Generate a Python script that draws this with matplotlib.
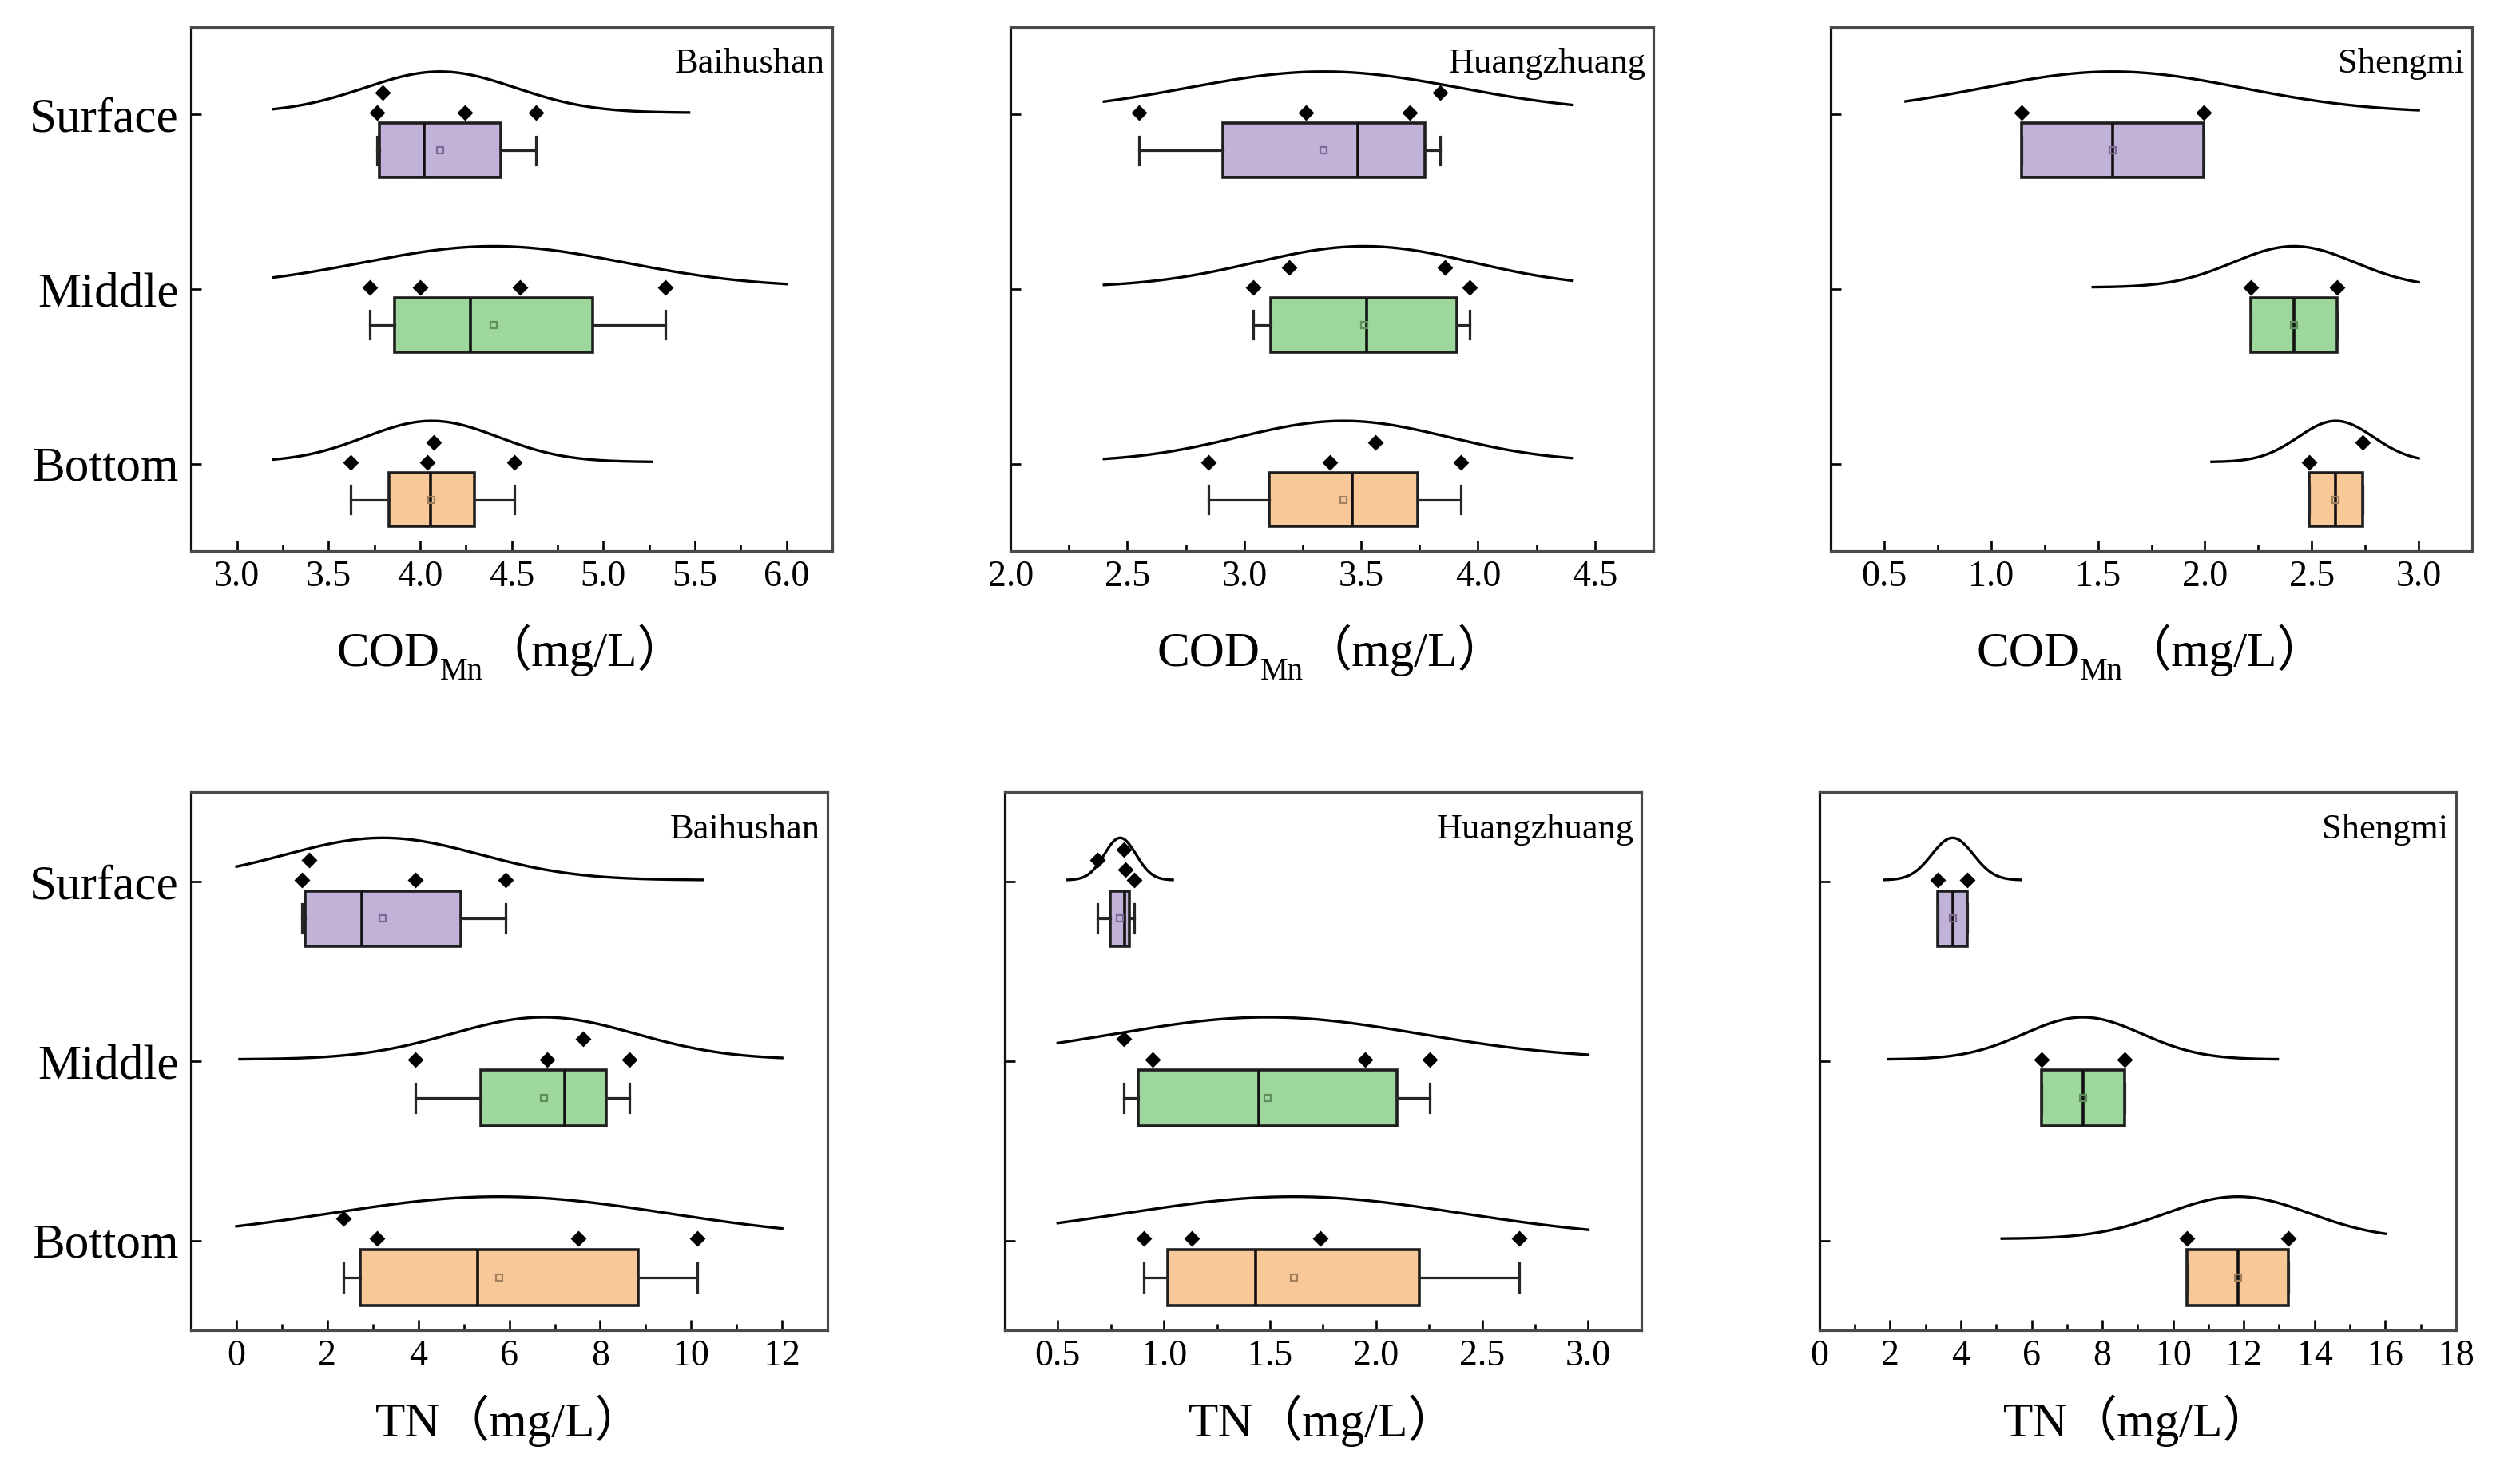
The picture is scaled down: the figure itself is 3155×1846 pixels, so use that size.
import numpy as np
import matplotlib
matplotlib.use("Agg")
import matplotlib.pyplot as plt
from matplotlib.ticker import MultipleLocator, FormatStrFormatter

plt.rcParams['font.family'] = ['Liberation Serif', 'Noto Sans CJK SC']

# ---------------- data ----------------
layers = ['Surface', 'Middle', 'Bottom']
sites = ['Baihushan', 'Huangzhuang', 'Shengmi']

# COD_Mn (mg/L), each site: [Surface, Middle, Bottom]
cod_baihushan = [[3.764, 3.796, 4.246, 4.631],
                 [3.726, 4.000, 4.546, 5.337],
                 [3.623, 4.041, 4.076, 4.514]]
cod_huangzhuang = [[2.550, 3.264, 3.707, 3.839],
                   [3.037, 3.192, 3.858, 3.964],
                   [2.848, 3.366, 3.560, 3.925]]
cod_shengmi = [[1.142, 1.995],
               [2.215, 2.618],
               [2.488, 2.737]]

# TN (mg/L)
tn_baihushan = [[1.436, 1.590, 3.940, 5.920],
                [3.930, 6.825, 7.620, 8.650],
                [2.350, 3.090, 7.525, 10.140]]
tn_huangzhuang = [[0.686, 0.812, 0.819, 0.859],
                  [0.810, 0.945, 1.947, 2.252],
                  [0.904, 1.131, 1.737, 2.674]]
tn_shengmi = [[3.35, 4.18],
              [6.27, 8.63],
              [10.40, 13.26]]

# stacking level of overlapping scatter points
cod_baihushan_stack = [[0, 2, 0, 0], [0, 0, 0, 0], [0, 0, 2, 0]]
cod_huangzhuang_stack = [[0, 0, 0, 2], [0, 2, 2, 0], [0, 0, 2, 0]]
cod_shengmi_stack = [[0, 0], [0, 0], [0, 2]]
tn_baihushan_stack = [[0, 2, 0, 0], [0, 0, 2, 0], [2, 0, 0, 0]]
tn_huangzhuang_stack = [[2, 3, 1, 0], [2, 0, 0, 0], [0, 0, 0, 0]]
tn_shengmi_stack = [[0, 0], [0, 0], [0, 0]]

# axis settings per panel
cod_xlims = [(2.75, 6.25), (2.0, 4.75), (0.25, 3.25)]
cod_major = [0.5, 0.5, 0.5]
tn_xlims = [(-1, 13), (0.25, 3.25), (0, 18)]
tn_major = [2, 0.5, 2]
cod_curve_clip = [(3.2, 6.0), (2.4, 4.4), (0.6, 3.0)]
tn_curve_clip = [(0, 12), (0.5, 3.0), (0, 16)]

box_colors = ['#C1B2D7', '#9ED79C', '#F9C898']
mean_edge = ['#7d6a94', '#5f8f5d', '#a3805e']

# ---------------- figure ----------------
W, H, DPI = 3155, 1846, 200
fig = plt.figure(figsize=(W / DPI, H / DPI), dpi=DPI)

top_rects = [(0.0758, 0.6262, 0.2545, 0.3554),
             (0.4010, 0.6262, 0.2551, 0.3554),
             (0.7265, 0.6262, 0.2545, 0.3554)]
bot_rects = [(0.0758, 0.0975, 0.2526, 0.3651),
             (0.3987, 0.0975, 0.2526, 0.3651),
             (0.7220, 0.0975, 0.2526, 0.3651)]

positions = [3, 2, 1]


def tukey_stats(vals):
    v = np.sort(np.asarray(vals, dtype=float))
    n = len(v)
    h = n // 2
    lower = v[:h] if n % 2 == 0 else v[:h + 1]
    upper = v[h:]
    return dict(med=float(np.median(v)), q1=float(np.median(lower)),
                q3=float(np.median(upper)), whislo=float(v.min()),
                whishi=float(v.max()), mean=float(v.mean()), fliers=[])


def draw_panel(ax, groups, stacks, xlim, major, clip, site, show_ylabels, fmt):
    stats = [tukey_stats(g) for g in groups]
    bp = ax.bxp(stats, positions=[p - 0.205 for p in positions], widths=0.31,
                orientation='horizontal', patch_artist=True, showmeans=True,
                showfliers=False, manage_ticks=False, capwidths=0.16,
                boxprops=dict(edgecolor='#1e1e1e', linewidth=1.3),
                medianprops=dict(color='#111111', linewidth=1.3),
                whiskerprops=dict(color='#262626', linewidth=1.15),
                capprops=dict(color='#262626', linewidth=1.15),
                meanprops=dict(marker='s', markerfacecolor='none',
                               markersize=3.0, markeredgewidth=0.8))
    for i, patch in enumerate(bp['boxes']):
        patch.set_facecolor(box_colors[i])
    for i, m in enumerate(bp['means']):
        m.set_markeredgecolor(mean_edge[i])

    for g, st, p in zip(groups, stacks, positions):
        g = np.asarray(g, dtype=float)
        ys = p + 0.01 + 0.057 * np.asarray(st)
        ax.plot(g, ys, linestyle='none', marker='D', markersize=3.9,
                color='black', zorder=4)
        mu, sd = g.mean(), g.std(ddof=1)
        lo = max(clip[0], mu - 3.3 * sd)
        hi = min(clip[1], mu + 3.3 * sd)
        xs = np.linspace(lo, hi, 300)
        ax.plot(xs, p + 0.01 + 0.235 * np.exp(-0.5 * ((xs - mu) / sd) ** 2),
                color='black', linewidth=1.2, zorder=3)

    ax.set_xlim(*xlim)
    ax.set_ylim(0.5, 3.5)
    ax.xaxis.set_major_locator(MultipleLocator(major))
    ax.xaxis.set_minor_locator(MultipleLocator(major / 2))
    ax.xaxis.set_major_formatter(FormatStrFormatter(fmt))
    ax.set_yticks(positions)
    if show_ylabels:
        ax.set_yticklabels(layers)
    else:
        ax.set_yticklabels([])
    ax.tick_params(axis='both', which='both', direction='in', top=False, right=False)
    ax.tick_params(axis='both', which='major', length=4.7, width=0.95)
    ax.tick_params(axis='x', which='minor', length=2.8, width=0.95)
    ax.tick_params(axis='x', which='major', labelsize=16.5, pad=4)
    ax.tick_params(axis='y', which='major', labelsize=22, pad=5.5)
    for name, sp in ax.spines.items():
        sp.set_linewidth(1.15)
        sp.set_color('#111111' if name == 'left' else '#4a4a4a')
    ax.text(0.988, 0.93, site, transform=ax.transAxes, ha='right', va='center',
            fontsize=16)


cod_data = [cod_baihushan, cod_huangzhuang, cod_shengmi]
cod_stacks = [cod_baihushan_stack, cod_huangzhuang_stack, cod_shengmi_stack]
tn_data = [tn_baihushan, tn_huangzhuang, tn_shengmi]
tn_stacks = [tn_baihushan_stack, tn_huangzhuang_stack, tn_shengmi_stack]

top_axes, bot_axes = [], []
for j in range(3):
    ax = fig.add_axes(top_rects[j])
    draw_panel(ax, cod_data[j], cod_stacks[j], cod_xlims[j], cod_major[j],
               cod_curve_clip[j], sites[j], j == 0, '%.1f')
    top_axes.append(ax)
    ax = fig.add_axes(bot_rects[j])
    draw_panel(ax, tn_data[j], tn_stacks[j], tn_xlims[j], tn_major[j],
               tn_curve_clip[j], sites[j], j == 0, '%.1f' if tn_major[j] < 1 else '%d')
    bot_axes.append(ax)


# ------------- x labels with subscript, composed of text pieces -------------
def compound_label(ax, pieces, y_base):
    items = []
    for s, size, dy in pieces:
        t = fig.text(0, y_base, s, fontsize=size, va='baseline', ha='left')
        items.append((t, dy))
    return (ax, items, y_base)


labels = []
for ax in top_axes:
    labels.append(compound_label(ax, [('COD', 22, 0), ('Mn', 14, -17),
                                      ('（mg/L）', 22, 0)], 1 - 834 / H))
for ax in bot_axes:
    labels.append(compound_label(ax, [('TN', 22, 0), ('（mg/L）', 22, 0)],
                                 1 - 1799 / H))

fig.canvas.draw()
renderer = fig.canvas.get_renderer()
for ax, items, y_base in labels:
    widths = [t.get_window_extent(renderer).width for t, _ in items]
    pos = ax.get_position()
    cx = (pos.x0 + pos.x1) / 2 * W
    x = cx - sum(widths) / 2
    for (t, dy), w in zip(items, widths):
        t.set_position((x / W, y_base + dy / H))
        x += w

fig.savefig('out.png', dpi=DPI, facecolor='white')
